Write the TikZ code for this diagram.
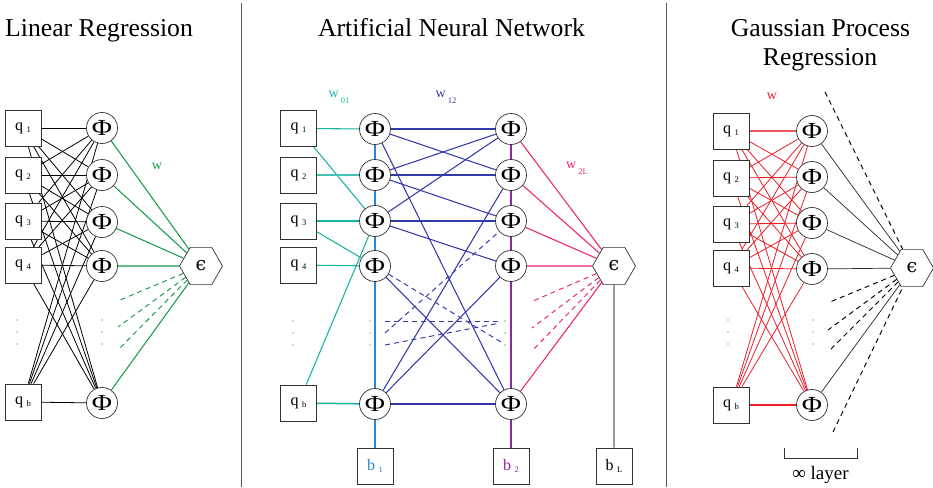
\documentclass[tikz,border=0pt]{standalone}
\usepackage{fontspec}
\setmainfont{Liberation Serif}
\newfontfamily\epsfamily{DejaVu Serif}
\usetikzlibrary{shapes.geometric,backgrounds}
\definecolor{lrgreen}{RGB}{20,155,75}
\definecolor{annteal}{RGB}{20,180,160}
\definecolor{annnavy}{RGB}{50,55,170}
\definecolor{annsteel}{RGB}{40,135,215}
\definecolor{annpurple}{RGB}{140,40,160}
\definecolor{annpink}{RGB}{240,30,120}
\definecolor{gpred}{RGB}{235,30,40}
\definecolor{sepgray}{RGB}{90,90,90}
\definecolor{bordergray}{RGB}{50,50,50}
\newcommand{\qsub}[2]{{\fontsize{16}{16}\selectfont #1}\hspace{3.5pt}\raisebox{-2pt}{\fontsize{8.5}{8.5}\selectfont #2}}
\newcommand{\wsub}[2]{{\fontsize{14}{14}\selectfont #1}\hspace{2pt}\raisebox{-6pt}{\fontsize{8.5}{8.5}\selectfont #2}}
\newcommand{\epsg}{{\epsfamily\fontsize{19}{19}\selectfont ϵ}}
\newcommand{\phig}{\scalebox{1.2}[1]{Φ}}
\tikzset{
  qbox/.style={draw=bordergray, fill=white, minimum size=36pt, inner sep=0pt, line width=0.7pt},
  phinode/.style={circle, draw=bordergray, fill=white, minimum size=31pt, inner sep=0pt, line width=0.7pt, font=\fontsize{23}{23}\selectfont},
  epsnode/.style={regular polygon, regular polygon sides=6, draw=bordergray, fill=white, minimum size=43pt, inner sep=0pt, line width=0.7pt},
  edge/.style={line width=0.8pt},
  coledge/.style={line width=1.05pt},
  navyedge/.style={line width=1.05pt, annnavy},
  thickedge/.style={line width=1.5pt},
  dashedge/.style={line width=0.95pt, dash pattern=on 5pt off 4pt},
  titletext/.style={font=\fontsize{25.7}{29}\selectfont, inner sep=0pt},
  wlabel/.style={inner sep=0pt},
  seprule/.style={draw=sepgray, line width=0.9pt},
}
\begin{document}
\begin{tikzpicture}[x=1pt,y=-1pt]
\useasboundingbox (0,0) rectangle (933,487);

% ---------- titles and separators ----------
\node[titletext, anchor=base] (t1) at (99,37) {Linear Regression};
\node[titletext, anchor=base] (t2) at (451.5,37) {Artificial Neural Network};
\node[titletext, anchor=base] (t3a) at (820.5,37) {Gaussian Process};
\node[titletext, anchor=base] (t3b) at (820,66) {Regression};
\draw[seprule] (241,3) -- (241,487);
\draw[seprule] (666,3) -- (666,487);

% ================= Linear Regression =================
\node[qbox] (lq1) at (23,128) {\qsub{q}{1}};
\node[qbox] (lq2) at (23,175) {\qsub{q}{2}};
\node[qbox] (lq3) at (23,221) {\qsub{q}{3}};
\node[qbox] (lq4) at (23,265) {\qsub{q}{4}};
\node[qbox] (lqb) at (23,402) {\qsub{q}{b}};
\node[phinode] (lp1) at (102,128) {\phig};
\node[phinode] (lp2) at (102,175) {\phig};
\node[phinode] (lp3) at (102,222) {\phig};
\node[phinode] (lp4) at (102,266) {\phig};
\node[phinode] (lpb) at (102,403) {\phig};
\node[epsnode] (le) at (201,266) {\epsg};
\node[wlabel, text=lrgreen, font=\fontsize{14}{14}\selectfont] (lw) at (157,166) {w};
\coordinate (lg1) at (120,300);
\coordinate (lg2) at (118,327);
\coordinate (lg3) at (118,350);
\foreach \yy in {320,332,344}{\fill[black!70] (17,\yy) circle (0.6pt); \fill[black!70] (102,\yy) circle (0.6pt);}

% ================= ANN =================
\node[qbox] (mq1) at (298.5,128.5) {\qsub{q}{1}};
\node[qbox] (mq2) at (298.5,175) {\qsub{q}{2}};
\node[qbox] (mq3) at (298.5,221) {\qsub{q}{3}};
\node[qbox] (mq4) at (298.5,265) {\qsub{q}{4}};
\node[qbox] (mqb) at (298.5,403) {\qsub{q}{b}};
\node[phinode] (ma1) at (375,129) {\phig};
\node[phinode] (ma2) at (375,175) {\phig};
\node[phinode] (ma3) at (375,221) {\phig};
\node[phinode] (ma4) at (375,266) {\phig};
\node[phinode] (mab) at (375,404) {\phig};
\node[phinode] (mc1) at (511,129) {\phig};
\node[phinode] (mc2) at (511,175) {\phig};
\node[phinode] (mc3) at (511,221) {\phig};
\node[phinode] (mc4) at (511,266) {\phig};
\node[phinode] (mcb) at (511,404) {\phig};
\node[epsnode] (me) at (614,266) {\epsg};
\node[qbox, text=annsteel] (mb1) at (375,466) {\qsub{b}{1}};
\node[qbox, text=annpurple] (mb2) at (511,466) {\qsub{b}{2}};
\node[qbox] (mbL) at (614,466) {\qsub{b}{L}};
\node[wlabel, text=annteal] (mw01) at (339,97) {\wsub{w}{01}};
\node[wlabel, text=annnavy] (mw12) at (446,97) {\wsub{w}{12}};
\node[wlabel, text=annpink] (mw2L) at (577,168) {\wsub{w}{2L}};
\foreach \yy in {321,333,345}{\fill[black!70] (293,\yy) circle (0.6pt); \fill[black!70] (370,\yy) circle (0.6pt); \fill[black!70] (505,\yy) circle (0.6pt);}
\coordinate (ns1) at (385,321);
\coordinate (ns2) at (385,333);
\coordinate (ns3) at (385,345);
\coordinate (ne1) at (500,321);
\coordinate (ne2) at (500,323);
\coordinate (ne3) at (501,342);
\coordinate (mk1) at (533,301);
\coordinate (mk2) at (532,328);
\coordinate (mk3) at (532,351);

% ================= GPR =================
\node[qbox] (rq1) at (731,131) {\qsub{q}{1}};
\node[qbox] (rq2) at (731,178) {\qsub{q}{2}};
\node[qbox] (rq3) at (731,224) {\qsub{q}{3}};
\node[qbox] (rq4) at (731,268) {\qsub{q}{4}};
\node[qbox] (rqb) at (731,405) {\qsub{q}{b}};
\node[phinode] (rp1) at (812,131) {\phig};
\node[phinode] (rp2) at (812,177) {\phig};
\node[phinode] (rp3) at (812,223) {\phig};
\node[phinode] (rp4) at (812,269) {\phig};
\node[phinode] (rpb) at (812,405) {\phig};
\node[epsnode] (re) at (912,268) {\epsg};
\node[wlabel, text=gpred, font=\fontsize{14}{14}\selectfont] (rw) at (772,96) {w};
\foreach \yy in {320,332,344}{\fill[black!70] (728,\yy) circle (0.6pt); \fill[black!70] (813,\yy) circle (0.6pt);}
\coordinate (rk1) at (830,302);
\coordinate (rk2) at (828,330);
\coordinate (rk3) at (828,352);
\coordinate (rtop) at (825,92);
\coordinate (rbot) at (833,432);
\coordinate (brl) at (784,448);
\coordinate (brr) at (857,448);
\draw[line width=0.8pt, bordergray] (brl) -- ++(0,10) -| (brr);
\node[inner sep=0pt, anchor=base, font=\fontsize{19}{19}\selectfont] (inflayer) at (820.5,479) {∞ layer};

% ================= edges (behind nodes) =================
\begin{scope}[on background layer]
  % linear regression
  \foreach \i in {1,2,3,4,b}{\foreach \j in {1,2,3,4,b}{\draw[edge] (lq\i) -- (lp\j);}}
  \foreach \j in {1,2,3,4,b}{\draw[coledge, lrgreen] (lp\j) -- (le);}
  \foreach \k in {1,2,3}{\draw[dashedge, lrgreen] (le) -- (lg\k);}
  % ANN input weights
  \draw[coledge, annteal] (mq1) -- (ma1);
  \draw[coledge, annteal] (mq1) -- (ma3);
  \draw[thickedge, annteal!80] (mq2) -- (ma2);
  \draw[coledge, annteal] (mq3) -- (ma3);
  \draw[coledge, annteal] (mq3) -- (ma4);
  \draw[coledge, annteal] (mq4) -- (ma4);
  \draw[coledge, annteal] (mqb) -- (ma3);
  \draw[thickedge, annteal] (mqb) -- (mab);
  % bias columns
  \draw[coledge, annsteel] (ma1) -- (ma2) -- (ma3) -- (ma4) -- (mab) -- (mb1);
  \draw[coledge, annpurple] (mc1) -- (mc2) -- (mc3) -- (mc4) -- (mcb) -- (mb2);
  \draw[line width=1.4pt, black!60] (me) -- (mbL);
  % hidden weights
  \draw[navyedge] (ma1) -- (mc1);
  \draw[navyedge] (ma1) -- (mc2);
  \draw[navyedge] (ma1) -- (mcb);
  \draw[navyedge] (ma2) -- (mc1);
  \draw[navyedge] (ma2) -- (mc2);
  \draw[navyedge] (ma2) -- (mc3);
  \draw[navyedge] (ma3) -- (mc1);
  \draw[navyedge] (ma3) -- (mc3);
  \draw[navyedge] (ma3) -- (mc4);
  \draw[navyedge] (ma4) -- (mcb);
  \draw[navyedge] (mab) -- (mc2);
  \draw[navyedge] (mab) -- (mc4);
  \draw[navyedge] (mab) -- (mcb);
  \draw[dashedge, annnavy] (ma4) -- (ne3);
  \draw[dashedge, annnavy] (ns1) -- (ne1);
  \draw[dashedge, annnavy] (ns2) -- (mc3);
  \draw[dashedge, annnavy] (ns3) -- (ne2);
  % output weights
  \foreach \j in {1,2,3,4,b}{\draw[coledge, annpink] (mc\j) -- (me);}
  \foreach \k in {1,2,3}{\draw[dashedge, annpink] (me) -- (mk\k);}
  % GPR
  \foreach \i in {1,2,3,4,b}{\foreach \j in {1,2,3,4,b}{\draw[edge, gpred] (rq\i) -- (rp\j);}}
  \draw[thickedge, gpred!75] (rq1) -- (rp1);
  \draw[thickedge, gpred] (rqb) -- (rpb);
  \foreach \j in {1,2,3,4,b}{\draw[line width=0.7pt, black!85] (rp\j) -- (re);}
  \foreach \k in {1,2,3}{\draw[dashedge, black] (re) -- (rk\k);}
  \draw[dashedge, black] (rtop) -- (re);
  \draw[dashedge, black] (rbot) -- (re);
\end{scope}
\end{tikzpicture}
\end{document}
